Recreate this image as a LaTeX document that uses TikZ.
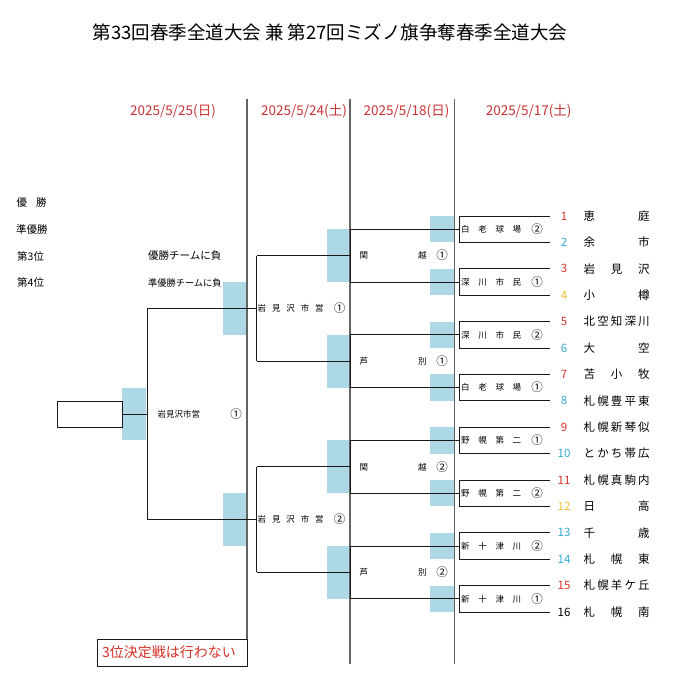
\documentclass[tikz,border=0pt]{standalone}
\usepackage{fontspec}
\setmainfont{Noto Sans CJK JP}
\definecolor{lb}{RGB}{173,216,230}
\definecolor{dred}{RGB}{200,50,50}
\definecolor{nred}{RGB}{214,48,40}
\definecolor{nblue}{RGB}{52,168,208}
\definecolor{nyel}{RGB}{240,192,48}
\definecolor{lc}{RGB}{25,25,25}
\definecolor{dc}{RGB}{100,100,100}
\tikzset{
  brk/.style={draw=lc, line width=1pt},
  divl/.style={draw=dc, line width=1.1pt},
  bluefill/.style={fill=lb, draw=none},
  datetxt/.style={text=dred, inner sep=0pt, font=\fontsize{13.5}{15}\selectfont},
  numtxt/.style={inner sep=0pt, font=\fontsize{11.5}{13}\selectfont},
  nametxt/.style={inner sep=0pt, anchor=west, font=\fontsize{11.5}{13}\selectfont},
  smlab/.style={inner sep=0pt, anchor=west, font=\fontsize{8.5}{9}\selectfont},
  circlab/.style={inner sep=0pt, font=\fontsize{11.5}{12}\selectfont},
  sidelab/.style={inner sep=0pt, anchor=west, font=\fontsize{10.5}{12}\selectfont}
}
\begin{document}
\begin{tikzpicture}[x=1pt,y=-1pt]
\useasboundingbox (0,0) rectangle (680,696);

% title
\node[inner sep=0pt, font=\fontsize{18.5}{20}\selectfont] (title) at (330,32) {第33回春季全道大会 兼 第27回ミズノ旗争奪春季全道大会};

% dates
\node[datetxt] (d1) at (173,111.3) {2025/5/25(日)};
\node[datetxt] (d2) at (304,111.3) {2025/5/24(土)};
\node[datetxt] (d3) at (406.5,111.3) {2025/5/18(日)};
\node[datetxt] (d4) at (528.6,111.3) {2025/5/17(土)};

% side labels
\node[sidelab] (s1) at (16.5,203) {\makebox[30pt][s]{優\hfill 勝}};
\node[sidelab] (s2) at (16,229.5) {準優勝};
\node[sidelab] (s3) at (17,256) {第3位};
\node[sidelab] (s4) at (17,282.5) {第4位};
\node[sidelab] (s5) at (148,256) {優勝チームに負};
\node[sidelab, font=\fontsize{9.2}{11}\selectfont] (s6) at (148,282.5) {準優勝チームに負};

% blue fills
\foreach \m in {1,...,8}{
  \fill[bluefill] (430,{216+(2*\m-2)*26.4}) rectangle (454,{216+(2*\m-1)*26.4});
}
\foreach \k in {1,...,4}{
  \fill[bluefill] (327,{229.2+(2*\k-2)*52.8}) rectangle (350,{229.2+(2*\k-1)*52.8});
}
\foreach \j in {1,2}{
  \fill[bluefill] (223,{308.4+(\j-1)*211.2-26.4}) rectangle (247,{308.4+(\j-1)*211.2+26.4});
}
\fill[bluefill] (122,387.6) rectangle (146,440.4);

% dividers
\coordinate (v1t) at (247,99);
\coordinate (v1b) at (247,639);
\coordinate (v2t) at (350,99);
\coordinate (v2b) at (350,664);
\coordinate (v3t) at (454.5,99);
\coordinate (v3b) at (454.5,664);
\draw[divl] (v1t) -- (v1b);
\draw[divl] (v2t) -- (v2b);
\draw[divl] (v3t) -- (v3b);

% teams
\foreach \i/\c/\n in {1/nred/{恵\hfill 庭},2/nblue/{余\hfill 市},3/nred/{岩\hfill 見\hfill 沢},4/nyel/{小\hfill 樽},
  5/nred/{北\hfill 空\hfill 知\hfill 深\hfill 川},6/nblue/{大\hfill 空},7/nred/{苫\hfill 小\hfill 牧},8/nblue/{札\hfill 幌\hfill 豊\hfill 平\hfill 東},
  9/nred/{札\hfill 幌\hfill 新\hfill 琴\hfill 似},10/nblue/{と\hfill か\hfill ち\hfill 帯\hfill 広},11/nred/{札\hfill 幌\hfill 真\hfill 駒\hfill 内},12/nyel/{日\hfill 高},
  13/nblue/{千\hfill 歳},14/nblue/{札\hfill 幌\hfill 東},15/nred/{札\hfill 幌\hfill 羊\hfill ケ\hfill 丘},16/black/{札\hfill 幌\hfill 南}}{
  \pgfmathsetmacro\yy{216+(\i-1)*26.4}
  \coordinate (T\i) at (550,\yy);
  \coordinate (B\i) at (459,\yy);
  \node[numtxt, text=\c] (N\i) at (564,\yy) {\i};
  \node[nametxt] (Nm\i) at (583.5,\yy) {\makebox[66pt][s]{\n}};
}

% round 1
\foreach \m/\lab/\cn in {1/{白\hfill 老\hfill 球\hfill 場}/②,2/{深\hfill 川\hfill 市\hfill 民}/①,
  3/{深\hfill 川\hfill 市\hfill 民}/②,4/{白\hfill 老\hfill 球\hfill 場}/①,
  5/{野\hfill 幌\hfill 第\hfill 二}/①,6/{野\hfill 幌\hfill 第\hfill 二}/②,
  7/{新\hfill 十\hfill 津\hfill 川}/②,8/{新\hfill 十\hfill 津\hfill 川}/①}{
  \pgfmathtruncatemacro\a{2*\m-1}
  \pgfmathtruncatemacro\b{2*\m}
  \pgfmathsetmacro\yy{229.2+(\m-1)*52.8}
  \draw[brk] (T\a) -- (B\a) -- (B\b) -- (T\b);
  \coordinate (M\m) at (459,\yy);
  \coordinate (R\m) at (350,\yy);
  \draw[brk] (M\m) -- (R\m);
  \node[smlab] (La\m) at (461,\yy) {\makebox[60pt][s]{\lab}};
  \node[circlab] (Ca\m) at (537,\yy) {\cn};
}

% round 2
\foreach \k/\x/\z/\cn in {1/関/越/①,2/芦/別/①,3/関/越/②,4/芦/別/②}{
  \pgfmathtruncatemacro\a{2*\k-1}
  \pgfmathtruncatemacro\b{2*\k}
  \pgfmathsetmacro\yy{255.6+(\k-1)*105.6}
  \draw[brk] (R\a) -- (R\b);
  \coordinate (Q\k) at (350,\yy);
  \coordinate (S\k) at (256.5,\yy);
  \draw[brk] (Q\k) -- (S\k);
  \node[smlab] (Lb\k) at (359.5,\yy) {\makebox[67pt][s]{\x\hfill \z}};
  \node[circlab] (Cb\k) at (442,\yy) {\cn};
}

% round 3
\foreach \j/\cn in {1/①,2/②}{
  \pgfmathtruncatemacro\a{2*\j-1}
  \pgfmathtruncatemacro\b{2*\j}
  \pgfmathsetmacro\yy{308.4+(\j-1)*211.2}
  \draw[brk] (S\a) -- (S\b);
  \coordinate (U\j) at (256.5,\yy);
  \coordinate (V\j) at (147,\yy);
  \draw[brk] (U\j) -- (V\j);
  \node[smlab] (Lc\j) at (257.5,\yy) {\makebox[66pt][s]{岩\hfill 見\hfill 沢\hfill 市\hfill 営}};
  \node[circlab] (Cc\j) at (339.5,\yy) {\cn};
}

% final
\draw[brk] (V1) -- (V2);
\coordinate (W) at (147,414);
\node[draw=lc, line width=1pt, minimum width=65pt, minimum height=26pt, inner sep=0pt] (champ) at (89.5,414) {};
\draw[brk] (champ.east) -- (W);
\node[smlab] (Ld) at (157.5,414) {\makebox[42.5pt][s]{岩\hfill 見\hfill 沢\hfill 市\hfill 営}};
\node[circlab] (Cd) at (236,414) {①};

% no third place match
\node[draw=lc, line width=1pt, minimum width=150pt, minimum height=27pt, text width=140pt, inner xsep=5pt, inner ysep=0pt, align=left, text=nred, font=\fontsize{14}{16}\selectfont] (nothird) at (172,652.5) {3位決定戦は行わない};
\end{tikzpicture}
\end{document}
